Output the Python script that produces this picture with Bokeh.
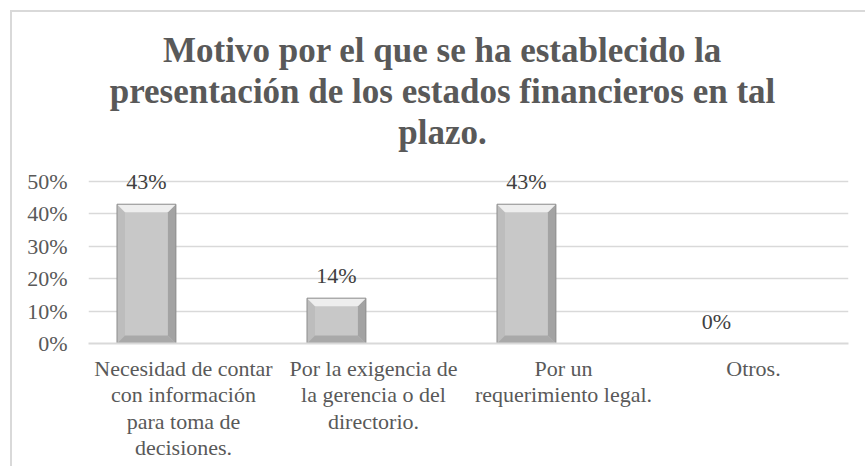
from bokeh.plotting import figure
from bokeh.models import (ColumnDataSource, Range1d, NumeralTickFormatter,
                          FixedTicker, LabelSet, Label)
from bokeh.transform import dodge
from bokeh.embed import file_html
from bokeh.resources import INLINE

categories = ["Necesidad de contar con información para toma de decisiones.",
              "Por la exigencia de la gerencia o del directorio.",
              "Por un requerimiento legal.",
              "Otros."]
wrapped_labels = ["Necesidad de contar\ncon información\npara toma de\ndecisiones.",
                  "Por la exigencia de\nla gerencia o del\ndirectorio.",
                  "Por un\nrequerimiento legal.",
                  "Otros."]
values = [0.43, 0.14, 0.43, 0.0]
value_labels = ["43%", "14%", "43%", "0%"]
y_ticks = [0.0, 0.1, 0.2, 0.3, 0.4, 0.5]
title_text = ("Motivo por el que se ha establecido la\n"
              "presentación de los estados financieros en tal\n"
              "plazo.")

SERIF = "Liberation Serif"
TXT = "#595959"

idx = list(range(len(categories)))
src = ColumnDataSource(dict(x=idx, cat=categories, val=values, lab=value_labels))

# bevel geometry (style: bevel depth in px converted to data units)
DODGE = -0.195
BAR_W = 0.31
PX_X = 1.0 / 190.0      # data units per px horizontally
PX_Y = 0.1 / 32.4       # data units per px vertically
BEV = 8
dx, dy = BEV * PX_X, BEV * PX_Y

top_xs, top_ys, bot_xs, bot_ys = [], [], [], []
lft_xs, lft_ys, rgt_xs, rgt_ys = [], [], [], []
for xi, v in zip(idx, values):
    if v <= 0:
        continue
    x0 = xi + DODGE - BAR_W / 2
    x1 = xi + DODGE + BAR_W / 2
    top_xs.append([x0, x1, x1 - dx, x0 + dx]); top_ys.append([v, v, v - dy, v - dy])
    bot_xs.append([x0, x1, x1 - dx, x0 + dx]); bot_ys.append([0, 0, dy, dy])
    lft_xs.append([x0, x0, x0 + dx, x0 + dx]); lft_ys.append([0, v, v - dy, dy])
    rgt_xs.append([x1, x1, x1 - dx, x1 - dx]); rgt_ys.append([0, v, v - dy, dy])

p = figure(x_range=Range1d(-0.5, len(categories) - 0.5), y_range=Range1d(0, 1.022),
           width=855, height=456, output_backend="svg", toolbar_location=None,
           min_border_left=76, min_border_right=19, min_border_bottom=125,
           min_border_top=0)
p.styles = {"margin-left": "10px", "margin-top": "10px",
            "border-left": "2px solid #d9d9d9", "border-top": "2px solid #d9d9d9"}
p.title = None

p.xgrid.grid_line_color = None
p.ygrid.grid_line_color = "#d9d9d9"
p.ygrid.grid_line_width = 1.5

p.vbar(x=dodge("x", DODGE), top="val", width=BAR_W, source=src,
       fill_color="#c8c8c8", line_color=None)
p.patches(lft_xs, lft_ys, fill_color="#bdbdbd", line_color=None)
p.patches(rgt_xs, rgt_ys, fill_color="#a3a3a3", line_color=None)
p.patches(bot_xs, bot_ys, fill_color="#a9a9a9", line_color=None)
p.patches(top_xs, top_ys, fill_color="#eeeeee", line_color=None)
p.vbar(x=dodge("x", DODGE), top="val", width=BAR_W, source=src,
       fill_color=None, line_color="#8c8c8c", line_width=1)

labels = LabelSet(x=dodge("x", DODGE), y="val", text="lab", source=src,
                  text_align="center", text_baseline="bottom", y_offset=10,
                  text_font=SERIF, text_font_size="22px", text_color="#404040")
p.add_layout(labels)

title = Label(x=(p.x_range.start + p.x_range.end) / 2, y=y_ticks[-1],
              x_offset=-26, y_offset=30, text=title_text,
              text_align="center", text_baseline="bottom", text_font=SERIF,
              text_font_size="35px", text_font_style="bold", text_color=TXT,
              text_line_height=1.04)
p.add_layout(title)

p.yaxis.ticker = FixedTicker(ticks=y_ticks)
p.yaxis.formatter = NumeralTickFormatter(format="0%")
p.yaxis.axis_line_color = None
p.yaxis.major_tick_line_color = None
p.yaxis.minor_tick_line_color = None
p.yaxis.major_label_standoff = 15
p.yaxis.major_label_text_font = SERIF
p.yaxis.major_label_text_font_size = "22px"
p.yaxis.major_label_text_color = TXT

p.xaxis.ticker = FixedTicker(ticks=idx)
p.xaxis.major_label_overrides = dict(zip(idx, wrapped_labels))
p.xaxis.axis_line_color = "#d9d9d9"
p.xaxis.axis_line_width = 2
p.xaxis.major_tick_line_color = None
p.xaxis.minor_tick_line_color = None
p.xaxis.major_label_standoff = 6
p.xaxis.major_label_text_font = SERIF
p.xaxis.major_label_text_font_size = "22px"
p.xaxis.major_label_text_color = TXT
p.xaxis.major_label_text_line_height = 1.06

p.outline_line_color = None
p.background_fill_color = "white"
p.border_fill_color = "white"

open("out.html", "w").write(file_html(p, INLINE))
